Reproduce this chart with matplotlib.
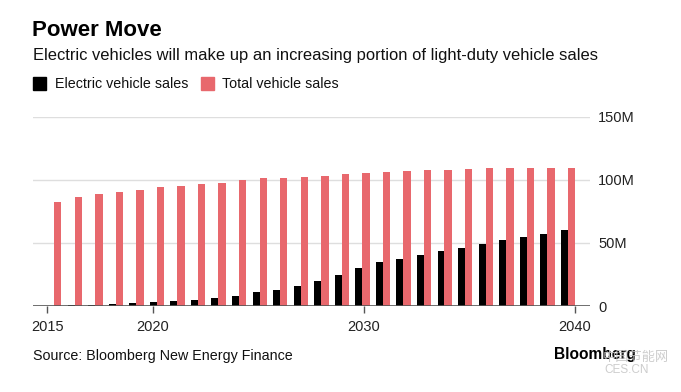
import matplotlib
matplotlib.use("Agg")
import matplotlib.pyplot as plt
import numpy as np

years = list(range(2015, 2041))
total_sales = [82.1, 86.6, 88.5, 90.0, 92.2, 94.0, 95.3, 96.9, 97.7, 99.6, 101.1, 101.7, 102.5,
               103.0, 104.7, 105.4, 106.2, 106.9, 107.7, 107.7, 108.5, 109.3, 109.3, 109.3, 109.3, 109.3]
ev_sales = [0.3, 0.5, 0.8, 1.5, 2.4, 3.2, 4.0, 4.8, 6.3, 7.9, 11.1, 12.7, 15.8,
            19.8, 24.3, 29.8, 34.6, 37.5, 40.7, 43.8, 46.2, 49.4, 52.5, 54.9, 57.3, 60.2]
tick_years = [2015, 2020, 2030, 2040]
y_ticks = [0, 50, 100, 150]
y_labels = ["0", "50M", "100M", "150M"]

RED = "#e8686d"
FONT = "Liberation Sans"

W, H = 681, 392
fig = plt.figure(figsize=(W / 100, H / 100), dpi=100)
fig.patch.set_facecolor("white")

def fx(px):
    return px / W

def fy(py):
    return 1 - py / H

left_px, right_px = 33, 590
top_px, bottom_px = 116.7, 306
ax = fig.add_axes([fx(left_px), fy(bottom_px), fx(right_px - left_px), (bottom_px - top_px) / H])

idx = np.arange(len(years))
ax.bar(idx, ev_sales, width=-0.34, align="edge", color="black", zorder=3)
ax.bar(idx, total_sales, width=0.36, align="edge", color=RED, zorder=3)

ax.set_xlim(-1.022, 26.08)
ax.set_ylim(0, 150)

for v in y_ticks[1:]:
    ax.axhline(v, color="#dedede", lw=1, zorder=1)
ax.axhline(0, color="#555555", lw=1.2, zorder=4)

for s in ax.spines.values():
    s.set_visible(False)

tick_pos = [-0.326 + (y - 2015) * 25.67 / 25 for y in tick_years]
ax.set_xticks(tick_pos)
ax.set_xticklabels([str(y) for y in tick_years], fontsize=10.5, fontfamily=FONT, color="#222222")
ax.tick_params(axis="x", length=5, width=1, color="#555555", pad=5)

ax.yaxis.tick_right()
ax.set_yticks(y_ticks)
ax.set_yticklabels(y_labels, fontsize=10.5, fontfamily=FONT, color="#222222")
ax.tick_params(axis="y", length=0, pad=6)

# Titles
fig.text(fx(32), fy(36), "Power Move", fontsize=16, fontweight="bold", fontfamily=FONT,
         color="black", va="baseline", ha="left")
fig.text(fx(33), fy(60), "Electric vehicles will make up an increasing portion of light-duty vehicle sales",
         fontsize=11.9, fontfamily=FONT, color="#111111", va="baseline", ha="left")

# Legend
fig.patches.append(plt.Rectangle((fx(33), fy(90)), fx(13), 13 / H, transform=fig.transFigure,
                                 color="black"))
fig.text(fx(55), fy(88), "Electric vehicle sales", fontsize=10.3, fontfamily=FONT,
         color="#111111", va="baseline", ha="left")
fig.patches.append(plt.Rectangle((fx(201), fy(90)), fx(13), 13 / H, transform=fig.transFigure,
                                 color=RED))
fig.text(fx(222), fy(88), "Total vehicle sales", fontsize=10.3, fontfamily=FONT,
         color="#111111", va="baseline", ha="left")

# Footer
fig.text(fx(33), fy(360), "Source: Bloomberg New Energy Finance", fontsize=10.3, fontfamily=FONT,
         color="#111111", va="baseline", ha="left")
fig.text(fx(554), fy(359), "Bloomberg", fontsize=11.2, fontweight="bold", fontfamily=FONT,
         color="black", va="baseline", ha="left")
fig.text(fx(603), fy(361), "中国节能网", fontsize=9.5, fontfamily=["Noto Sans CJK SC", "DejaVu Sans"],
         color="#c4c4c4", va="baseline", ha="left", alpha=0.85)
fig.text(fx(604), fy(373), "CES.CN", fontsize=8.5, fontfamily=FONT,
         color="#c4c4c4", va="baseline", ha="left", alpha=0.85)

fig.savefig("out.png", dpi=100, facecolor="white")
